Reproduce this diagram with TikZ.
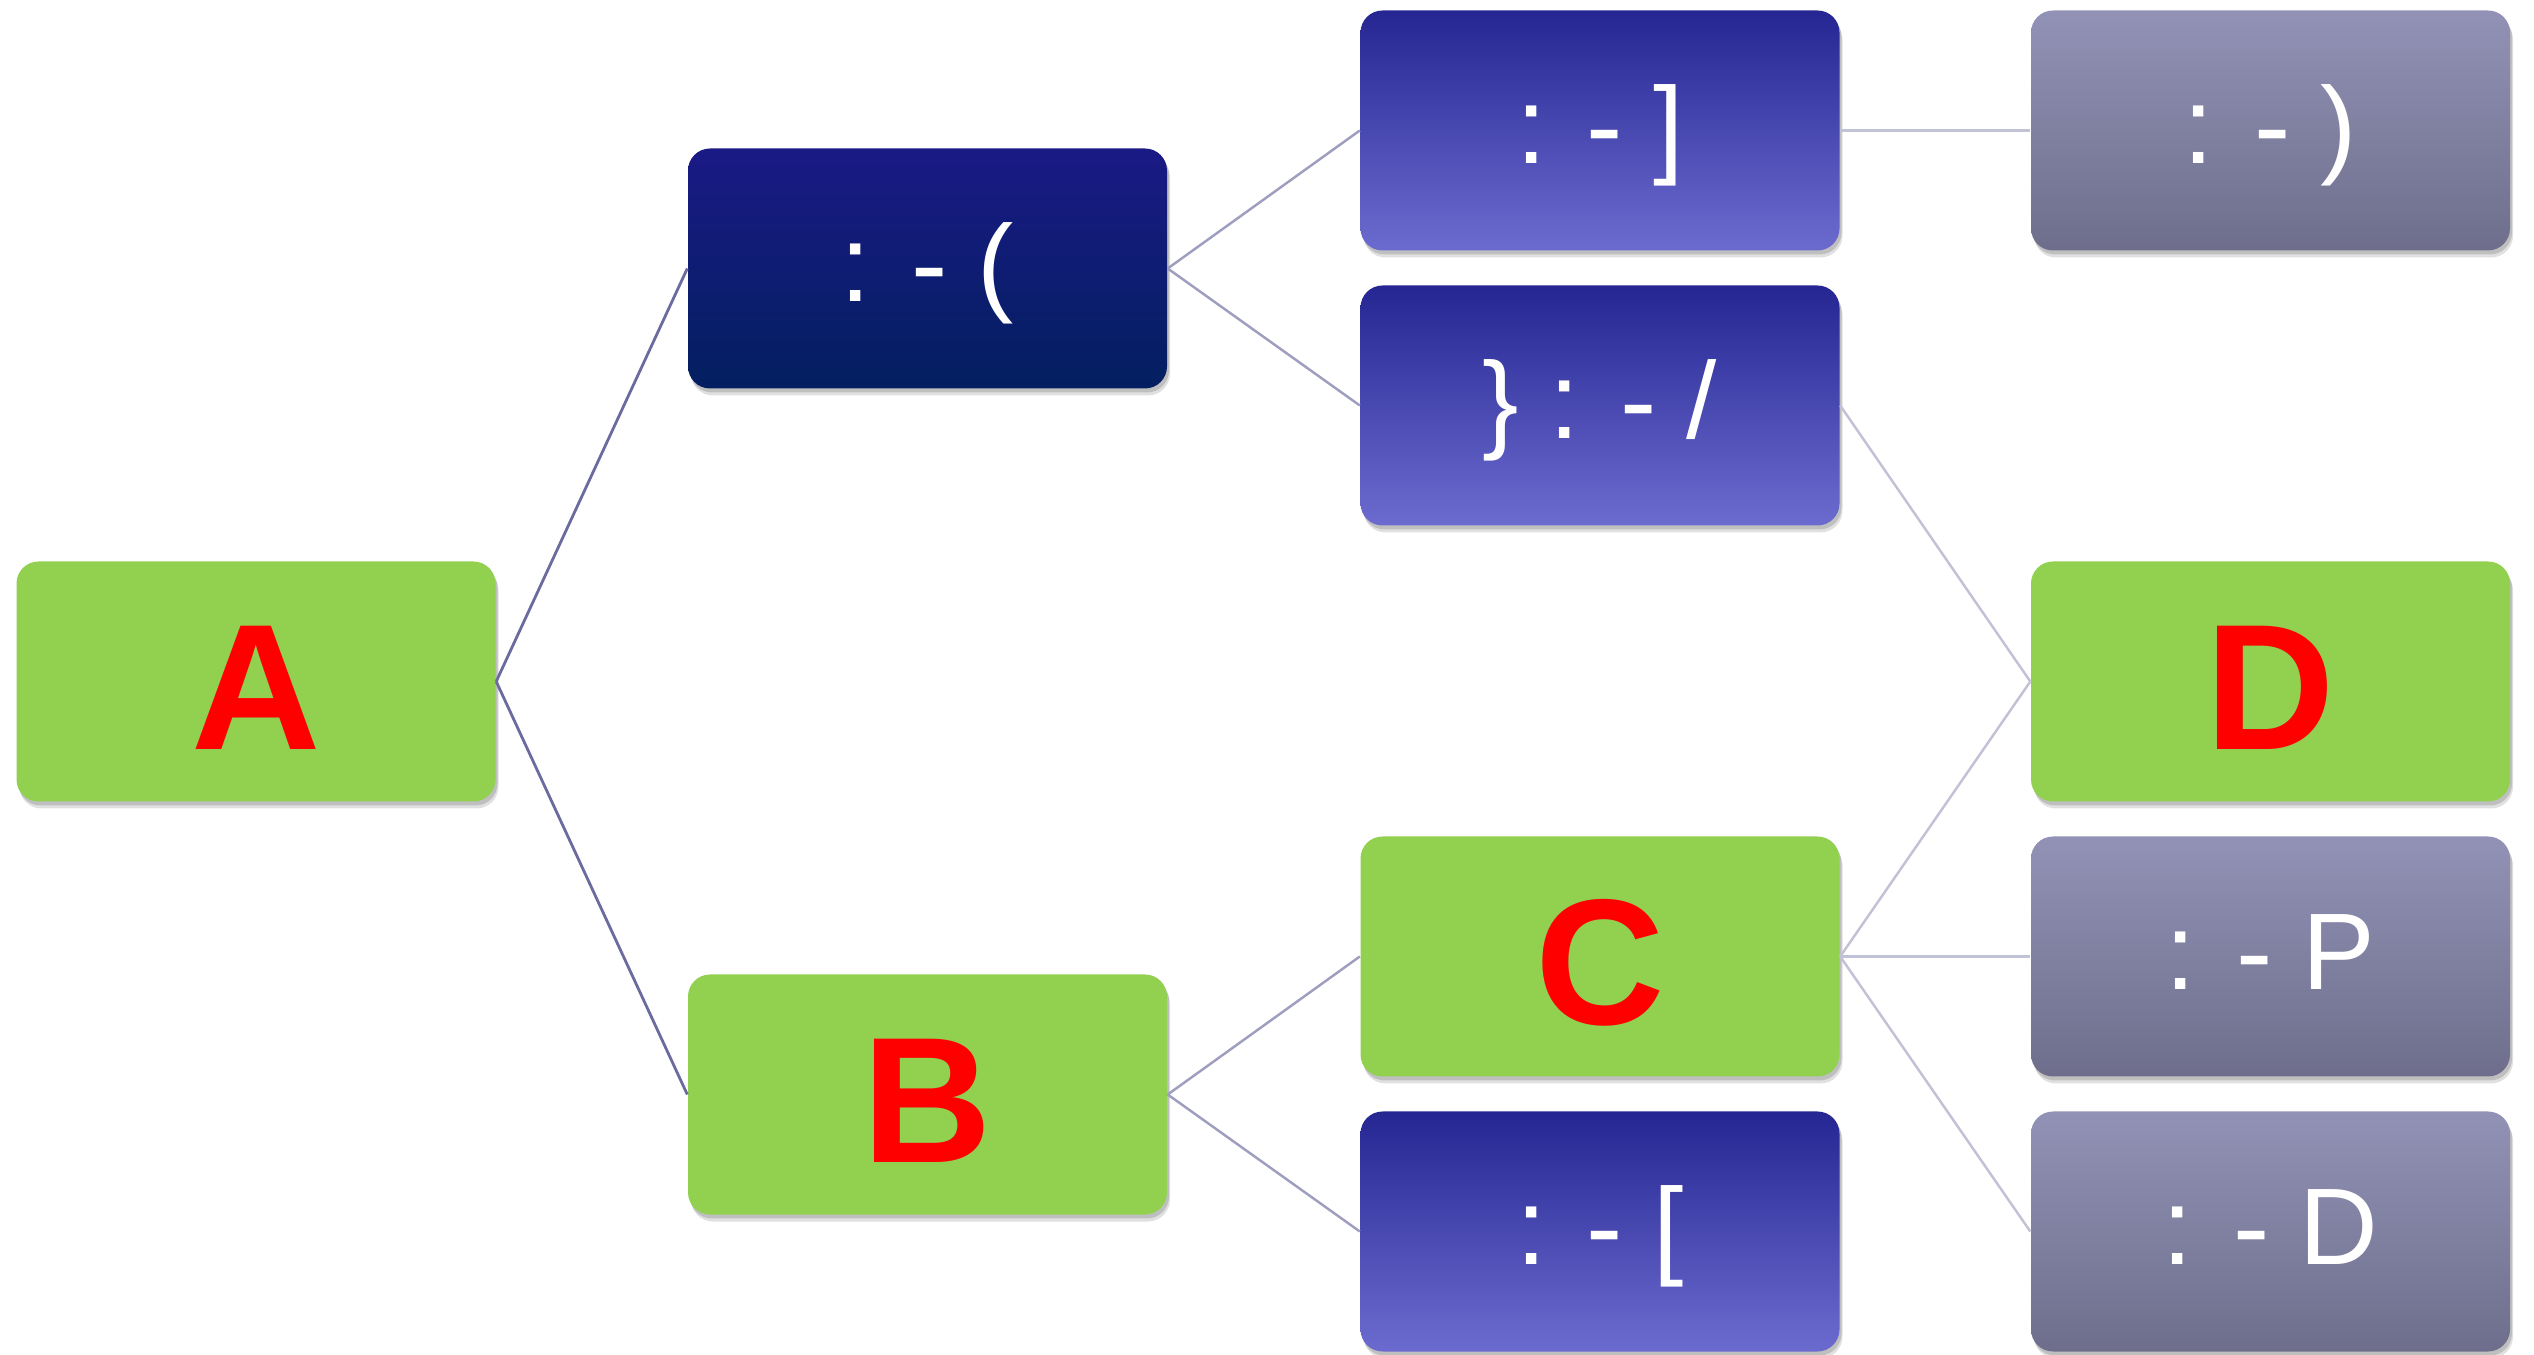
\documentclass[tikz,border=0pt]{standalone}
\usepackage{fontspec}
\setmainfont{Liberation Sans}
\definecolor{leafgreen}{HTML}{92D050}
\definecolor{navytop}{HTML}{1A1A85}
\definecolor{navybot}{HTML}{031F60}
\definecolor{bluetop}{HTML}{262693}
\definecolor{bluebot}{HTML}{6B6BCF}
\definecolor{greytop}{HTML}{9292B6}
\definecolor{greybot}{HTML}{6E6E8C}
\definecolor{linkdark}{HTML}{6B6B9F}
\definecolor{linkmid}{HTML}{9E9EBE}
\definecolor{linklight}{HTML}{C2C2D6}
\def\greennode{\node[box,fill=leafgreen,text=red,text height=1.36cm,text depth=0cm,font=\bfseries\fontsize{51}{52}\selectfont]}
\def\navynode{\node[box,top color=navytop,bottom color=navybot]}
\def\bluenode{\node[box,top color=bluetop,bottom color=bluebot]}
\def\greynode{\node[box,top color=greytop,bottom color=greybot]}
\def\drawtrunk{\draw[color=linkdark, line width=0.8pt]}
\def\drawbranch{\draw[color=linkmid, line width=0.7pt]}
\def\drawtwig{\draw[color=linklight, line width=0.7pt]}

\begin{document}
\begin{tikzpicture}[box/.style={rectangle,rounded corners=0.22cm,minimum width=4.79cm,minimum height=2.4cm,inner sep=0pt,text=white,text height=0.89cm,text depth=0.23cm,font=\fontsize{31}{32}\selectfont,
  preaction={fill=black,opacity=0.12,transform canvas={xshift=0.03cm,yshift=-0.07cm}},
  preaction={fill=black,opacity=0.15,transform canvas={xshift=0.02cm,yshift=-0.04cm}}}]
\useasboundingbox (0,0) rectangle (25.34,-13.55);
\greennode (a) at (2.56,-6.815) {A};
\navynode (sad) at (9.275,-2.685) {: - (};
\greennode (b) at (9.275,-10.945) {B};
\bluenode (smirk) at (16.0,-1.305) {: - ]};
\bluenode (skeptic) at (16.0,-4.055) {\} : - /};
\greennode (c) at (16.0,-9.565) {C};
\bluenode (frown) at (16.0,-12.315) {: - [};
\greynode (smile) at (22.705,-1.305) {: - )};
\greennode (d) at (22.705,-6.815) {D};
\greynode (tongue) at (22.705,-9.565) {: - P};
\greynode (grin) at (22.705,-12.315) {: - D};
\drawtrunk (a.east) -- (sad.west);
\drawtrunk (a.east) -- (b.west);
\drawbranch (sad.east) -- (smirk.west);
\drawbranch (sad.east) -- (skeptic.west);
\drawbranch (b.east) -- (c.west);
\drawbranch (b.east) -- (frown.west);
\drawtwig (smirk.east) -- (smile.west);
\drawtwig (skeptic.east) -- (d.west);
\drawtwig (c.east) -- (d.west);
\drawtwig (c.east) -- (tongue.west);
\drawtwig (c.east) -- (grin.west);
\end{tikzpicture}
\end{document}
